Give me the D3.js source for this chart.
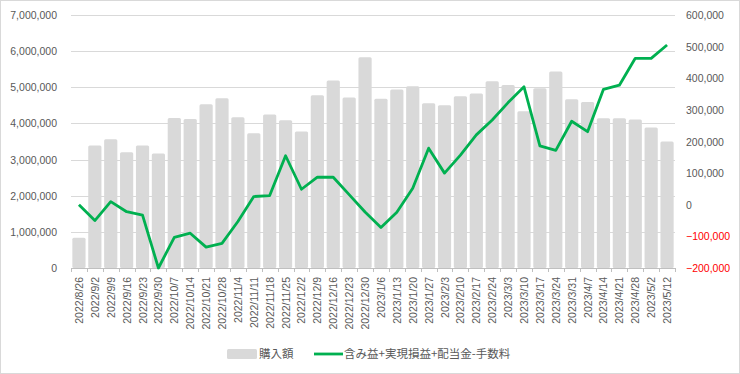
<!DOCTYPE html>
<html lang="ja">
<head>
  <meta charset="UTF-8">
  <title>購入額と損益</title>
  <script src="https://d3js.org/d3.v7.min.js"></script>
  <style>
    html, body {
      margin: 0;
      padding: 0;
      background: #fff;
    }
    .tick-label {
      font-family: "Liberation Sans", Arial, sans-serif;
      font-size: 10.5px;
      fill: #595959;
    }
    .legend-text {
      font-family: "Noto Sans CJK JP", sans-serif;
      font-size: 11.5px;
      fill: #595959;
    }
  </style>
</head>
<body>
  <div id="container"></div>
  <script>
    const width = 740;
    const height = 374;

    // weekly dates
    const dates = [
      '2022/8/26', '2022/9/2', '2022/9/9', '2022/9/16', '2022/9/23', '2022/9/30',
      '2022/10/7', '2022/10/14', '2022/10/21', '2022/10/28', '2022/11/4', '2022/11/11',
      '2022/11/18', '2022/11/25', '2022/12/2', '2022/12/9', '2022/12/16', '2022/12/23',
      '2022/12/30', '2023/1/6', '2023/1/13', '2023/1/20', '2023/1/27', '2023/2/3',
      '2023/2/10', '2023/2/17', '2023/2/24', '2023/3/3', '2023/3/10', '2023/3/17',
      '2023/3/24', '2023/3/31', '2023/4/7', '2023/4/14', '2023/4/21', '2023/4/28',
      '2023/5/2', '2023/5/12'
    ];

    // 購入額 (left axis)
    const purchase = [
      840000, 3390000, 3560000, 3200000, 3390000, 3170000,
      4150000, 4120000, 4530000, 4700000, 4170000, 3730000,
      4250000, 4090000, 3780000, 4780000, 5190000, 4720000,
      5830000, 4680000, 4940000, 5030000, 4560000, 4500000,
      4750000, 4830000, 5170000, 5060000, 4340000, 4970000,
      5440000, 4670000, 4590000, 4140000, 4140000, 4110000,
      3890000, 3500000
    ];

    // 含み益+実現損益+配当金-手数料 (right axis)
    const profit = [
      0, -50000, 10000, -22000, -33000, -200000,
      -103000, -90000, -134000, -122000, -53000, 26000,
      29000, 155000, 49000, 87000, 87000, 32000,
      -23000, -72000, -24000, 52000, 179000, 100000,
      157000, 221000, 268000, 323000, 373000, 186000,
      172000, 264000, 231000, 365000, 378000, 463000,
      463000, 505000
    ];

    const leftTicks = [0, 1000000, 2000000, 3000000, 4000000, 5000000, 6000000, 7000000];
    const rightTicks = [-200000, -100000, 0, 100000, 200000, 300000, 400000, 500000, 600000];

    const plot = { left: 71, right: 675, top: 15, bottom: 268 };
    const fmt = d3.format(',');

    const svg = d3.select('#container').append('svg')
      .attr('width', width).attr('height', height);

    // chart border
    svg.append('rect')
      .attr('x', 0.5).attr('y', 0.5)
      .attr('width', width - 1).attr('height', height - 1)
      .attr('fill', '#fff').attr('stroke', '#d9d9d9');

    const x = d3.scaleBand().domain(dates)
      .range([plot.left, plot.right])
      .paddingInner(0.17).paddingOuter(0.085);

    const yL = d3.scaleLinear().domain([0, 7000000]).range([plot.bottom, plot.top]);
    const yR = d3.scaleLinear().domain([-200000, 600000]).range([plot.bottom, plot.top]);

    // gridlines
    svg.append('g')
      .selectAll('line').data(leftTicks.slice(1)).join('line')
      .attr('x1', plot.left).attr('x2', plot.right)
      .attr('y1', d => Math.round(yL(d)) + 0.5).attr('y2', d => Math.round(yL(d)) + 0.5)
      .attr('stroke', '#d9d9d9');

    // bars
    svg.append('g')
      .selectAll('rect').data(purchase).join('rect')
      .attr('x', (d, i) => x(dates[i]))
      .attr('width', x.bandwidth())
      .attr('y', d => yL(d))
      .attr('height', d => yL(0) - yL(d))
      .attr('rx', 1.5)
      .attr('fill', '#d9d9d9');

    // x axis line + ticks at band boundaries
    const step = x.step();
    svg.append('line')
      .attr('x1', plot.left).attr('x2', plot.right)
      .attr('y1', plot.bottom + 0.5).attr('y2', plot.bottom + 0.5)
      .attr('stroke', '#bfbfbf');
    svg.append('g')
      .selectAll('line').data(d3.range(dates.length + 1)).join('line')
      .attr('x1', i => Math.round(plot.left + i * step) + 0.5)
      .attr('x2', i => Math.round(plot.left + i * step) + 0.5)
      .attr('y1', plot.bottom).attr('y2', plot.bottom + 4)
      .attr('stroke', '#bfbfbf');

    // x labels, rotated
    svg.append('g')
      .selectAll('text').data(dates).join('text')
      .attr('class', 'tick-label')
      .attr('transform', d => `translate(${x(d) + x.bandwidth() / 2 + 4},${plot.bottom + 9}) rotate(-90)`)
      .attr('text-anchor', 'end')
      .text(d => d);

    // left axis labels
    svg.append('g')
      .selectAll('text').data(leftTicks).join('text')
      .attr('class', 'tick-label')
      .attr('x', 57).attr('y', d => yL(d) + 4)
      .attr('text-anchor', 'end')
      .text(d => fmt(d));

    // right axis labels
    svg.append('g')
      .selectAll('text').data(rightTicks).join('text')
      .attr('class', 'tick-label')
      .attr('x', 686).attr('y', d => yR(d) + 4)
      .style('fill', d => d < 0 ? '#ff0000' : null)
      .text(d => fmt(d));

    // profit line
    const line = d3.line()
      .x((d, i) => x(dates[i]) + x.bandwidth() / 2)
      .y(d => yR(d));

    svg.append('path').datum(profit)
      .attr('d', line)
      .attr('fill', 'none')
      .attr('stroke', '#00b050')
      .attr('stroke-width', 2.8)
      .attr('stroke-linejoin', 'round');

    // legend
    const lg = svg.append('g');
    lg.append('rect')
      .attr('x', 227).attr('y', 349).attr('width', 30).attr('height', 10)
      .attr('rx', 1.5).attr('fill', '#d9d9d9');
    lg.append('text').attr('class', 'legend-text')
      .attr('x', 259).attr('y', 358).text('購入額');
    lg.append('line')
      .attr('x1', 314).attr('x2', 343).attr('y1', 354).attr('y2', 354)
      .attr('stroke', '#00b050').attr('stroke-width', 2.8);
    lg.append('text').attr('class', 'legend-text')
      .attr('x', 344).attr('y', 358).text('含み益+実現損益+配当金-手数料');
  </script>
</body>
</html>
